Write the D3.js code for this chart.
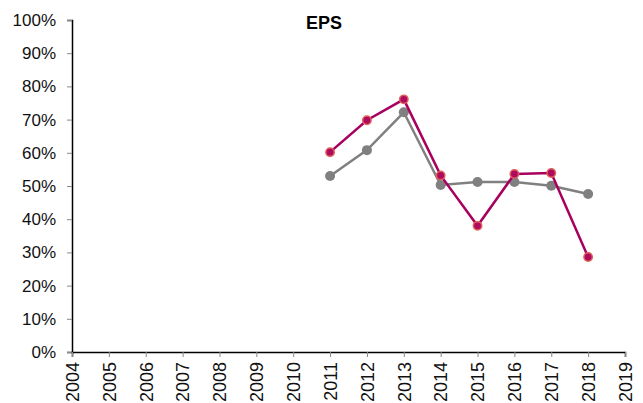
<!DOCTYPE html>
<html lang="en">
<head>
    <meta charset="UTF-8">
    <title>EPS</title>
    <script src="https://d3js.org/d3.v7.min.js"></script>
</head>
<style>
    body { margin: 0; background: white; }
    text { font-family: "Liberation Sans", Arial, sans-serif; }
</style>
<body>
    <svg id="chart"></svg>
    <script>
        const width = 643;
        const height = 403;

    //Data
        const years = d3.range(2004, 2020);
        const seriesYears = [2011, 2012, 2013, 2014, 2015, 2016, 2017, 2018];
        const magentaValues = [60.2, 69.8, 76.1, 53.2, 38.0, 53.6, 53.9, 28.6];
        const grayValues = [53.0, 60.8, 72.2, 50.3, 51.2, 51.2, 50.1, 47.6];
        const yTicks = d3.range(0, 101, 10);

        const margin = {top: 20, right: 18, bottom: 51, left: 72};

        const svg = d3.select("#chart")
            .attr("width", width)
            .attr("height", height);

        const x = d3.scaleLinear()
            .domain([2004, 2019])
            .range([margin.left, width - margin.right]);

        const y = d3.scaleLinear()
            .domain([0, 100])
            .range([height - margin.bottom, margin.top]);

    //Axes
        const yAxis = svg.append("g")
            .attr("transform", `translate(${margin.left},0)`)
            .call(d3.axisLeft(y).tickValues(yTicks).tickSize(5).tickPadding(11)
                .tickFormat(d => d + "%"));
        yAxis.select(".domain").attr("stroke", "#000").attr("stroke-width", 1.5);
        yAxis.selectAll(".tick line").attr("stroke", "#888");
        yAxis.selectAll(".tick text")
            .attr("font-size", 17)
            .attr("fill", "#111")
            .attr("font-family", "Liberation Sans, Arial, sans-serif");

        const xAxis = svg.append("g")
            .attr("transform", `translate(0,${height - margin.bottom})`)
            .call(d3.axisBottom(x).tickValues(years).tickSize(5).tickFormat(d3.format("d")));
        xAxis.select(".domain").attr("stroke", "#000").attr("stroke-width", 1.5);
        xAxis.selectAll(".tick line").attr("stroke", "#888");
        xAxis.selectAll(".tick text")
            .attr("font-size", 18)
            .attr("fill", "#111")
            .attr("font-family", "Liberation Sans, Arial, sans-serif")
            .attr("transform", "rotate(-90)")
            .attr("text-anchor", "end")
            .attr("x", -10)
            .attr("y", 0)
            .attr("dy", "0.35em");

    //Title
        svg.append("text")
            .attr("x", 324)
            .attr("y", 29)
            .attr("text-anchor", "middle")
            .attr("font-size", 18)
            .attr("font-weight", "bold")
            .text("EPS");

    //Series
        const line = d3.line()
            .x((d, i) => x(seriesYears[i]))
            .y(d => y(d));

        svg.append("path")
            .datum(grayValues)
            .attr("fill", "none")
            .attr("stroke", "#808080")
            .attr("stroke-width", 2.5)
            .attr("d", line);

        svg.selectAll(".grayDot")
            .data(grayValues)
            .join("circle")
            .attr("class", "grayDot")
            .attr("cx", (d, i) => x(seriesYears[i]))
            .attr("cy", d => y(d))
            .attr("r", 5)
            .attr("fill", "#808080");

        svg.append("path")
            .datum(magentaValues)
            .attr("fill", "none")
            .attr("stroke", "#A8005F")
            .attr("stroke-width", 2.5)
            .attr("d", line);

        svg.selectAll(".magentaDot")
            .data(magentaValues)
            .join("circle")
            .attr("class", "magentaDot")
            .attr("cx", (d, i) => x(seriesYears[i]))
            .attr("cy", d => y(d))
            .attr("r", 4.2)
            .attr("fill", "#AE0A5E")
            .attr("stroke", "#E0605A")
            .attr("stroke-width", 1.5);
    </script>
</body>
</html>
